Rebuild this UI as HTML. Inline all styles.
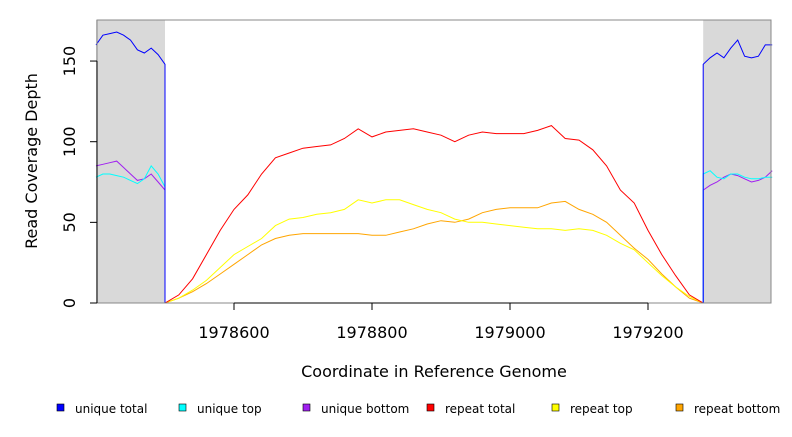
<!DOCTYPE html>
<html><head><meta charset="utf-8"><style>
body{margin:0;background:#fff;}
svg text{font-family:"DejaVu Sans","Liberation Sans",sans-serif;}
</style></head><body>
<svg id="c" width="792" height="432" xmlns="http://www.w3.org/2000/svg"></svg>
<script>
const repX0=1978500, repStep=20;
const repeatTotal=[0,5,15,30,45,58,67,80,90,93,96,97,98,102,108,103,106,107,108,106,104,100,104,106,105,105,105,107,110,102,101,95,85,70,62,45,30,17,5,0];
const repeatTop=[0,3,8,14,22,30,35,40,48,52,53,55,56,58,64,62,64,64,61,58,56,52,50,50,49,48,47,46,46,45,46,45,42,37,33,25,17,10,4,0];
const repeatBottom=[0,3,7,12,18,24,30,36,40,42,43,43,43,43,43,42,42,44,46,49,51,50,52,56,58,59,59,59,62,63,58,55,50,42,34,27,18,10,3,0];
const uniStep=10, uniLeftX0=1978400, uniRightX0=1979280;
const uniqueTotalL=[160,166,167,168,166,163,157,155,158,154,148];
const uniqueTotalR=[148,152,155,152,158,163,153,152,153,160,160];
const uniqueTopL=[78,80,80,79,78,76,74,77,85,80,72];
const uniqueTopR=[80,82,78,77,80,80,78,77,77,78,78];
const uniqueBottomL=[85,86,87,88,84,80,76,77,80,75,70];
const uniqueBottomR=[70,73,75,78,80,79,77,75,76,78,82];
const xTicks=[1978600,1978800,1979000,1979200];
const yTicks=[0,50,100,150];
const legendLabels=["unique total","unique top","unique bottom","repeat total","repeat top","repeat bottom"];
const legendColors=["#0000ff","#00ffff","#a020f0","#ff0000","#ffff00","#ffa500"];

const NS="http://www.w3.org/2000/svg", svg=document.getElementById('c');
const X=v=>234+(v-1978600)*0.69, Y=v=>303-v*1.613;
function el(t,a,p){const e=document.createElementNS(NS,t);for(const k in a)e.setAttribute(k,a[k]);(p||svg).appendChild(e);return e;}
const xmin=1978400,xmax=1979378;
let g=el('rect',{x:X(xmin),y:20,width:X(1978500)-X(xmin),height:283,fill:'#d9d9d9'});


g=el('rect',{x:X(1979280),y:20,width:X(xmax)-X(1979280),height:283,fill:'#d9d9d9'});


function line(pts,color,name){let d=pts.map((p,i)=>(i?'L':'M')+X(p[0]).toFixed(1)+','+Y(p[1]).toFixed(1)).join('');
 const e=el('path',{d:d,fill:'none',stroke:color,'stroke-width':1});
 
 }
function rep(arr){const p=[[xmin,0]];arr.forEach((v,i)=>p.push([repX0+i*repStep,v]));p.push([xmax,0]);return p;}
function uni(L,R){const p=[];L.forEach((v,i)=>p.push([uniLeftX0+i*uniStep,v]));p.push([uniLeftX0+(L.length-1)*uniStep,0]);p.push([uniRightX0,0]);R.forEach((v,i)=>p.push([uniRightX0+i*uniStep,v]));return p;}
line(rep(repeatBottom),'#ffa500','repeat-bottom-line');
line(rep(repeatTop),'#ffff00','repeat-top-line');
line(rep(repeatTotal),'#ff0000','repeat-total-line');
line(uni(uniqueBottomL,uniqueBottomR),'#a020f0','unique-bottom-line');
line(uni(uniqueTopL,uniqueTopR),'#00ffff','unique-top-line');
line(uni(uniqueTotalL,uniqueTotalR),'#0000ff','unique-total-line');
g=el('rect',{x:97,y:20,width:674,height:283,fill:'none',stroke:'#888','stroke-width':1});


el('line',{x1:X(xTicks[0]),x2:X(xTicks[xTicks.length-1]),y1:303,y2:303,stroke:'#000'});
xTicks.forEach(t=>{el('line',{x1:X(t),x2:X(t),y1:303,y2:310,stroke:'#000'});
 const e=el('text',{x:X(t),y:338,'text-anchor':'middle','font-size':16});e.textContent=t;
 
 });
el('line',{x1:97,x2:97,y1:Y(0),y2:Y(150),stroke:'#000'});
yTicks.forEach(t=>{el('line',{x1:90,x2:97,y1:Y(t),y2:Y(t),stroke:'#000'});
 const e=el('text',{x:0,y:0,'text-anchor':'middle','font-size':16,transform:`translate(75,${Y(t)}) rotate(-90)`});e.textContent=t;
 
 });
let t=el('text',{x:434,y:377,'text-anchor':'middle','font-size':16});t.textContent='Coordinate in Reference Genome';


t=el('text',{x:0,y:0,'text-anchor':'middle','font-size':16,transform:'translate(37,161) rotate(-90)'});t.textContent='Read Coverage Depth';


const lx=[57,179,303,427,552,676];
legendLabels.forEach((l,i)=>{const r=el('rect',{x:lx[i],y:404,width:7,height:7,fill:legendColors[i],stroke:'#000','stroke-width':0.6});
 
 
 const e=el('text',{x:lx[i]+18,y:413,'font-size':12});e.textContent=l;
 
 });
</script>
</body></html>
